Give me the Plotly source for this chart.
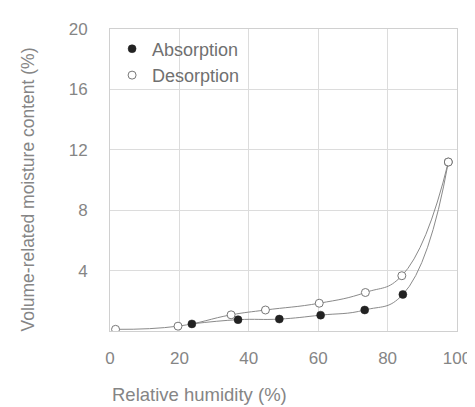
import plotly.graph_objects as go

# Data
abs_rh = [23.6, 36.9, 48.8, 60.7, 73.4, 84.4, 97.5]
abs_mc = [0.47, 0.75, 0.79, 1.05, 1.39, 2.42, 11.19]

des_rh = [1.6, 19.6, 34.9, 44.8, 60.3, 73.6, 84.1, 97.5]
des_mc = [0.11, 0.32, 1.07, 1.39, 1.84, 2.55, 3.66, 11.19]

x_ticks = [0, 20, 40, 60, 80, 100]
y_ticks = [4, 8, 12, 16, 20]

FONT = "Liberation Sans"
TXT = "#858585"
LINE = "#8a8a8a"

fig = go.Figure()

# curves
fig.add_trace(go.Scatter(x=des_rh, y=des_mc, mode="lines", showlegend=False,
                         line=dict(color=LINE, width=1, shape="spline", smoothing=1.3),
                         hoverinfo="skip"))
fig.add_trace(go.Scatter(x=abs_rh, y=abs_mc, mode="lines", showlegend=False,
                         line=dict(color=LINE, width=1, shape="spline", smoothing=1.3),
                         hoverinfo="skip"))
# markers
fig.add_trace(go.Scatter(x=abs_rh, y=abs_mc, mode="markers", name="Absorption",
                         marker=dict(symbol="circle", size=8, color="#222222",
                                     line=dict(color="#222222", width=0.5))))
fig.add_trace(go.Scatter(x=des_rh, y=des_mc, mode="markers", name="Desorption",
                         marker=dict(symbol="circle", size=8, color="white",
                                     line=dict(color="#777777", width=1))))

fig.update_layout(
    width=475, height=407,
    margin=dict(l=102, r=17, t=12, b=84),
    paper_bgcolor="white", plot_bgcolor="white",
    font=dict(family=FONT, size=17, color=TXT),
    legend=dict(x=0.006, y=0.995, xanchor="left", yanchor="top",
                bgcolor="rgba(0,0,0,0)", font=dict(size=18, color="#707070"),
                tracegroupgap=0, itemwidth=30),
    showlegend=True,
    annotations=[
        dict(text="Relative humidity (%)", xref="paper", yref="paper",
             x=0, y=-0.21, xanchor="left", yanchor="middle",
             showarrow=False, font=dict(size=18.5, color=TXT)),
        dict(text="Volume-related moisture content (%)", xref="paper", yref="paper",
             x=-0.235, y=0.47, xanchor="center", yanchor="middle", textangle=-90,
             showarrow=False, font=dict(size=17.5, color=TXT)),
    ],
)

fig.update_xaxes(range=[0, 100], tickvals=x_ticks, showgrid=True, gridcolor="#dcdcdc",
                 gridwidth=1, showline=True, linecolor="#d0d0d0", mirror=True,
                 zeroline=False, ticks="", ticklabelstandoff=12, fixedrange=True)
fig.update_yaxes(range=[0, 20], tickvals=y_ticks, showgrid=True, gridcolor="#dcdcdc",
                 gridwidth=1, showline=True, linecolor="#d0d0d0", mirror=True,
                 zeroline=False, ticks="", ticklabelstandoff=18, fixedrange=True)

fig.write_html("out.html")
